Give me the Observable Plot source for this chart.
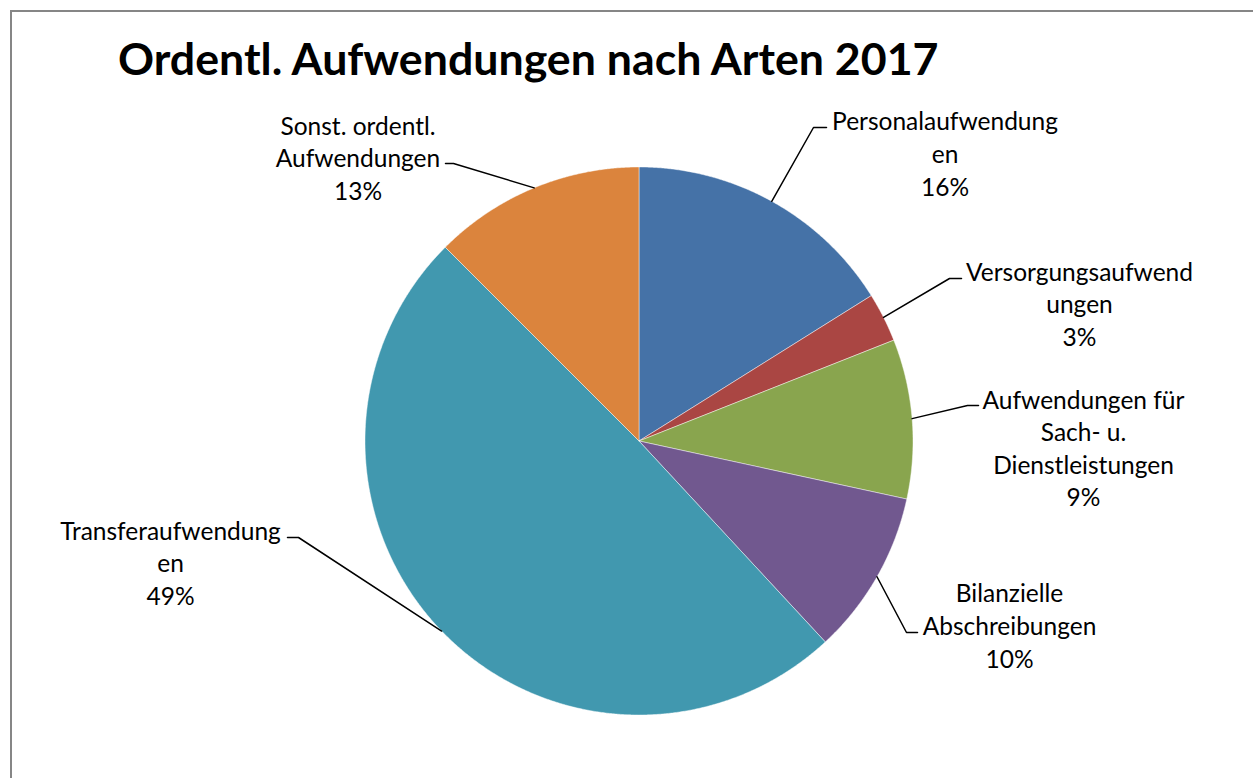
<!DOCTYPE html>
<html><head><meta charset="utf-8">
<script src="https://cdn.jsdelivr.net/npm/d3@7"></script>
<script src="https://cdn.jsdelivr.net/npm/@observablehq/plot@0.6"></script>
<style>
html,body{margin:0;padding:0;background:#fff;overflow:hidden;}
#wrap{position:relative;width:1253px;height:778px;overflow:hidden;}
#frame{position:absolute;left:10px;top:10px;width:1300px;height:800px;border-left:2px solid #868686;border-top:2px solid #868686;z-index:2;pointer-events:none;}
#title{height:100px;position:relative;font-family:Lato,sans-serif;font-weight:bold;font-size:44.7px;color:#000;}
#title span{position:absolute;left:118px;top:36px;line-height:45px;white-space:nowrap;}
#chart svg{display:block;}
</style></head><body>
<div id="wrap"><div id="frame"></div><div id="title"><span>Ordentl. Aufwendungen nach Arten 2017</span></div><div id="chart"></div></div>
<script>
// ---- data ----
const categories = ["Personalaufwendungen","Versorgungsaufwendungen","Aufwendungen für Sach- u. Dienstleistungen","Bilanzielle Abschreibungen","Transferaufwendungen","Sonst. ordentl. Aufwendungen"];
const labelLines = [["Personalaufwendung","en"],["Versorgungsaufwend","ungen"],["Aufwendungen für","Sach- u.","Dienstleistungen"],["Bilanzielle","Abschreibungen"],["Transferaufwendung","en"],["Sonst. ordentl.","Aufwendungen"]];
const shares = [16.1, 2.9, 9.4, 9.7, 49.4, 12.5];
const colors = ["#4572A7","#AA4643","#89A54E","#71588F","#4198AF","#DB843D"];

// ---- layout (page pixels) ----
const W = 1253, H = 678, TOP = 100;
const pie = {cx: 638.5, cy: 440.5, r: 274};
const labelLayout = [
  {x: 944.5, y: 152,   ex: 813, ey: 127, lx: 826},
  {x: 1079,  y: 302.5, ex: 949, ey: 278, lx: 961},
  {x: 1083,  y: 446.5, ex: 967, ey: 405, lx: 978},
  {x: 1009,  y: 624,   ex: 906, ey: 632, lx: 917},
  {x: 170,   y: 561.5, ex: 298, ey: 537, lx: 287},
  {x: 357.5, y: 156.5, ex: 453, ey: 163, lx: 445}
];

const arcs = d3.pie().sort(null).value(d => d)(shares);
const polar = (a, k = 1) => ({x: pie.cx + pie.r * k * Math.sin(a), y: pie.cy - pie.r * k * Math.cos(a)});

const slicePts = [];
arcs.forEach((a, i) => {
  const cat = categories[i];
  slicePts.push({cat, x: pie.cx, y: pie.cy});
  const n = Math.max(2, Math.ceil((a.endAngle - a.startAngle) / 0.005));
  for (let j = 0; j <= n; j++) {
    const t = a.startAngle + (a.endAngle - a.startAngle) * j / n;
    slicePts.push({cat, ...polar(t)});
  }
  slicePts.push({cat, x: pie.cx, y: pie.cy});
});

const leaderPts = [];
const labels = [];
arcs.forEach((a, i) => {
  const cat = categories[i];
  const L = labelLayout[i];
  const mid = (a.startAngle + a.endAngle) / 2;
  leaderPts.push({cat, ...polar(mid)});
  leaderPts.push({cat, x: L.ex, y: L.ey});
  leaderPts.push({cat, x: L.lx, y: L.ey});
  labels.push({x: L.x, y: L.y, text: [...labelLines[i], Math.round(shares[i]) + "%"].join("\n")});
});

const chart = Plot.plot({
  width: W, height: H, margin: 0,
  x: {domain: [0, W], range: [0, W], axis: null},
  y: {domain: [TOP, TOP + H], range: [0, H], axis: null},
  color: {domain: categories, range: colors},
  style: {background: "transparent", fontFamily: "Lato, sans-serif", overflow: "visible"},
  marks: [
    Plot.line(slicePts, {x: "x", y: "y", z: "cat", fill: "cat", stroke: "#ffffff", strokeWidth: 0.75, strokeOpacity: 0.6, curve: "linear"}),
    Plot.line(leaderPts, {x: "x", y: "y", z: "cat", stroke: "#000", strokeWidth: 1.5, curve: "linear"}),
    Plot.text(labels, {x: "x", y: "y", text: "text", fontSize: 24.5, lineHeight: 1.33, lineAnchor: "middle", textAnchor: "middle", fill: "#000"})
  ]
});
document.getElementById("chart").appendChild(chart);
</script>
</body></html>
